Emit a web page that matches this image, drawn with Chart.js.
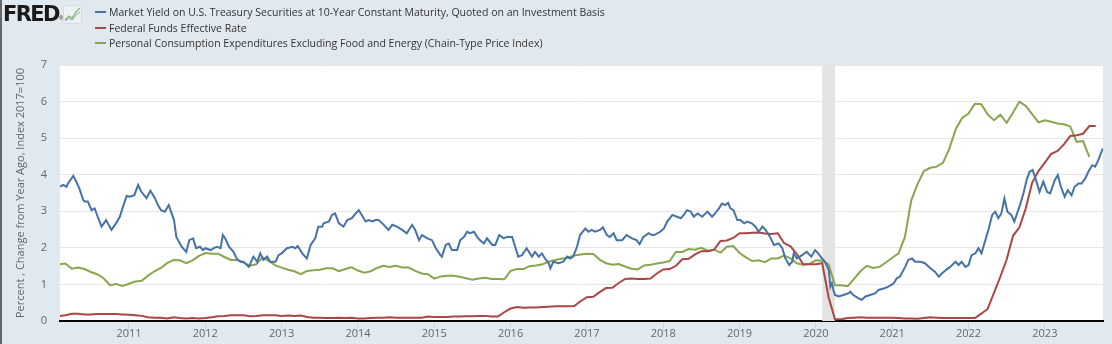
<!DOCTYPE html>
<html>
<head>
<meta charset="utf-8">
<script src="https://cdn.jsdelivr.net/npm/chart.js@4.4.0/dist/chart.umd.min.js"></script>
<style>
  html, body { margin: 0; padding: 0; }
  body {
    width: 1112px; height: 344px; overflow: hidden; position: relative;
    background: #e1e9f0; font-family: "Open Sans", sans-serif;
  }
  #leftEdge { position: absolute; left: 0; top: 0; width: 2px; height: 344px; background: #666; }
  #fredChart { position: absolute; left: 0; top: 0; }
  #logo { position: absolute; left: 3px; top: 1px; height: 26px; }
  #logo .fred {
    font-family: "DejaVu Sans", sans-serif; font-weight: 900; font-size: 21px;
    letter-spacing: -1.6px; color: #1a1a1a; line-height: 26px;
  }
  #logo .reg { font-size: 5px; color: #333; vertical-align: 1px; }
  #logo svg { position: absolute; left: 60px; top: 4px; }
  #legend { position: absolute; left: 95px; top: 5px; margin: 0; padding: 0; list-style: none; }
  #legend li { height: 15.5px; line-height: 15.5px; font-size: 10.5px; color: #333; white-space: nowrap; }
  #legend .dash { display: inline-block; width: 11px; height: 2px; vertical-align: middle; margin-right: 3px; position: relative; top: -1px; }
</style>
</head>
<body>
<canvas id="fredChart" width="1112" height="344"></canvas>
<div id="leftEdge"></div>
<div id="logo">
  <span class="fred">FRED</span><span class="reg">®</span>
  <svg width="19" height="19" viewBox="0 0 19 19">
    <rect x="0.5" y="0.5" width="18" height="18" rx="2" fill="#eef1f4" stroke="#d5dbe1"/>
    <polyline points="2,15 6,11 9,13 13,7 17,3" fill="none" stroke="#8fb86a" stroke-width="1.3"/>
    <polyline points="2,16 6,13 9,15 13,10 17,7" fill="none" stroke="#7d9fc4" stroke-width="1"/>
  </svg>
</div>
<ul id="legend"></ul>
<script>
// séries (títulos e cores como no FRED)
const seriesNames = [
  'Market Yield on U.S. Treasury Securities at 10-Year Constant Maturity, Quoted on an Investment Basis',
  'Federal Funds Effective Rate',
  'Personal Consumption Expenditures Excluding Food and Energy (Chain-Type Price Index)'
];
const seriesColors = ['#4572a7', '#aa4643', '#89a54e'];

// eixos
const xMin = 2010.096;
const xMax = 2023.762;
const yearTicks = [2011, 2012, 2013, 2014, 2015, 2016, 2017, 2018, 2019, 2020, 2021, 2022, 2023];
const percentTicks = [0, 1, 2, 3, 4, 5, 6, 7];
const recession = [2020.083, 2020.25];

// 10 anos (datas em ano decimal)
const yieldDates = [
  2010.09, 2010.14, 2010.18, 2010.20, 2010.27, 2010.31, 2010.35, 2010.40, 2010.42, 2010.46,
  2010.51, 2010.55, 2010.59, 2010.64, 2010.70, 2010.77, 2010.83, 2010.88, 2010.92, 2010.97,
  2011.01, 2011.07, 2011.12, 2011.16, 2011.23, 2011.28, 2011.34, 2011.38, 2011.42, 2011.47,
  2011.52, 2011.55, 2011.59, 2011.62, 2011.69, 2011.75, 2011.79, 2011.84, 2011.88, 2011.93,
  2011.97, 2012.00, 2012.07, 2012.11, 2012.15, 2012.20, 2012.23, 2012.26, 2012.31, 2012.37,
  2012.41, 2012.46, 2012.50, 2012.57, 2012.63, 2012.68, 2012.72, 2012.76, 2012.81, 2012.85,
  2012.92, 2012.96, 2013.00, 2013.07, 2013.14, 2013.18, 2013.21, 2013.27, 2013.33, 2013.38,
  2013.44, 2013.48, 2013.53, 2013.55, 2013.62, 2013.66, 2013.70, 2013.75, 2013.81, 2013.86,
  2013.92, 2013.97, 2014.01, 2014.05, 2014.10, 2014.14, 2014.19, 2014.23, 2014.27, 2014.32,
  2014.36, 2014.40, 2014.45, 2014.51, 2014.58, 2014.64, 2014.71, 2014.75, 2014.80, 2014.84,
  2014.91, 2014.97, 2015.02, 2015.08, 2015.10, 2015.15, 2015.19, 2015.23, 2015.30, 2015.34,
  2015.39, 2015.43, 2015.47, 2015.52, 2015.56, 2015.60, 2015.65, 2015.69, 2015.76, 2015.80,
  2015.85, 2015.91, 2015.95, 2016.02, 2016.06, 2016.10, 2016.15, 2016.21, 2016.28, 2016.32,
  2016.37, 2016.41, 2016.45, 2016.50, 2016.52, 2016.56, 2016.63, 2016.69, 2016.74, 2016.78,
  2016.82, 2016.87, 2016.91, 2016.98, 2017.02, 2017.06, 2017.11, 2017.17, 2017.21, 2017.26,
  2017.30, 2017.35, 2017.39, 2017.46, 2017.52, 2017.59, 2017.65, 2017.69, 2017.74, 2017.81,
  2017.85, 2017.88, 2017.96, 2018.01, 2018.05, 2018.12, 2018.18, 2018.23, 2018.27, 2018.31,
  2018.36, 2018.40, 2018.45, 2018.51, 2018.58, 2018.64, 2018.68, 2018.73, 2018.77, 2018.81,
  2018.85, 2018.88, 2018.92, 2018.97, 2019.01, 2019.06, 2019.10, 2019.16, 2019.21, 2019.25,
  2019.30, 2019.34, 2019.40, 2019.45, 2019.51, 2019.56, 2019.60, 2019.65, 2019.69, 2019.71,
  2019.75, 2019.82, 2019.88, 2019.94, 2019.99, 2020.03, 2020.08, 2020.12, 2020.17, 2020.19,
  2020.21, 2020.23, 2020.25, 2020.30, 2020.36, 2020.43, 2020.45, 2020.49, 2020.56, 2020.60,
  2020.65, 2020.71, 2020.78, 2020.82, 2020.89, 2020.95, 2021.02, 2021.06, 2021.10, 2021.17,
  2021.21, 2021.26, 2021.30, 2021.37, 2021.43, 2021.50, 2021.56, 2021.61, 2021.65, 2021.72,
  2021.76, 2021.83, 2021.87, 2021.91, 2021.96, 2022.00, 2022.04, 2022.09, 2022.13, 2022.17,
  2022.22, 2022.26, 2022.31, 2022.35, 2022.39, 2022.43, 2022.47, 2022.51, 2022.56, 2022.60,
  2022.63, 2022.68, 2022.72, 2022.76, 2022.80, 2022.84, 2022.89, 2022.93, 2022.98, 2023.03,
  2023.07, 2023.13, 2023.17, 2023.21, 2023.26, 2023.30, 2023.35, 2023.39, 2023.44, 2023.48,
  2023.53, 2023.57, 2023.62, 2023.66, 2023.70, 2023.76
];
const yieldValues = [
  3.67, 3.72, 3.67, 3.76, 3.97, 3.81, 3.62, 3.31, 3.27, 3.27,
  3.03, 3.08, 2.85, 2.58, 2.76, 2.49, 2.67, 2.85, 3.12, 3.42,
  3.40, 3.44, 3.72, 3.54, 3.36, 3.56, 3.36, 3.17, 3.03, 2.99,
  3.17, 2.99, 2.76, 2.30, 2.03, 1.89, 2.21, 2.26, 1.99, 2.03,
  1.94, 1.99, 1.94, 1.99, 2.03, 1.99, 2.35, 2.26, 2.03, 1.89,
  1.71, 1.62, 1.62, 1.48, 1.76, 1.62, 1.85, 1.67, 1.76, 1.62,
  1.62, 1.80, 1.85, 1.99, 2.03, 1.99, 2.05, 1.85, 1.71, 2.08,
  2.26, 2.58, 2.58, 2.67, 2.72, 2.90, 2.94, 2.67, 2.58, 2.76,
  2.81, 2.94, 3.03, 2.90, 2.72, 2.76, 2.72, 2.76, 2.76, 2.67,
  2.58, 2.49, 2.63, 2.58, 2.49, 2.40, 2.63, 2.49, 2.21, 2.35,
  2.26, 2.21, 1.99, 1.80, 1.76, 2.08, 2.12, 1.94, 1.94, 2.21,
  2.30, 2.44, 2.40, 2.44, 2.30, 2.21, 2.12, 2.26, 2.08, 2.08,
  2.35, 2.26, 2.30, 2.30, 2.03, 1.76, 1.80, 1.99, 1.76, 1.89,
  1.76, 1.85, 1.71, 1.58, 1.44, 1.62, 1.58, 1.62, 1.76, 1.71,
  1.76, 2.03, 2.35, 2.53, 2.44, 2.49, 2.44, 2.49, 2.56, 2.35,
  2.30, 2.40, 2.21, 2.21, 2.35, 2.26, 2.21, 2.10, 2.30, 2.40,
  2.35, 2.35, 2.44, 2.53, 2.71, 2.90, 2.85, 2.81, 2.90, 3.03,
  2.99, 2.85, 2.94, 2.85, 2.99, 2.85, 2.94, 3.08, 3.21, 3.17,
  3.23, 3.08, 3.03, 2.76, 2.76, 2.67, 2.72, 2.67, 2.58, 2.44,
  2.58, 2.49, 2.30, 2.08, 2.12, 1.99, 1.71, 1.53, 1.62, 1.85,
  1.71, 1.80, 1.89, 1.76, 1.94, 1.85, 1.71, 1.62, 1.39, 0.94,
  1.03, 0.85, 0.71, 0.67, 0.71, 0.76, 0.80, 0.71, 0.62, 0.58,
  0.67, 0.71, 0.76, 0.85, 0.89, 0.94, 1.03, 1.17, 1.21, 1.48,
  1.67, 1.71, 1.62, 1.62, 1.58, 1.44, 1.35, 1.21, 1.30, 1.42,
  1.48, 1.62, 1.53, 1.62, 1.48, 1.53, 1.80, 1.85, 1.99, 1.85,
  2.21, 2.49, 2.90, 2.99, 2.81, 2.94, 3.35, 2.99, 2.90, 2.72,
  2.90, 3.21, 3.49, 3.85, 4.08, 4.13, 3.81, 3.53, 3.81, 3.53,
  3.49, 3.85, 3.99, 3.67, 3.40, 3.58, 3.44, 3.67, 3.76, 3.76,
  3.90, 4.08, 4.26, 4.22, 4.40, 4.72
];

// séries mensais (primeiro ponto = jan/2010)
const monthlyStart = 2010;
const fedFunds = [
  0.11, 0.13, 0.16, 0.20, 0.20, 0.18, 0.18, 0.19, 0.19, 0.19, 0.19, 0.18,
  0.17, 0.16, 0.14, 0.10, 0.09, 0.09, 0.07, 0.10, 0.08, 0.07, 0.08, 0.07,
  0.08, 0.10, 0.13, 0.14, 0.16, 0.16, 0.16, 0.13, 0.14, 0.16, 0.16, 0.16,
  0.14, 0.15, 0.14, 0.15, 0.11, 0.09, 0.09, 0.08, 0.08, 0.09, 0.08, 0.09,
  0.07, 0.07, 0.08, 0.09, 0.09, 0.10, 0.09, 0.09, 0.09, 0.09, 0.09, 0.12,
  0.11, 0.11, 0.11, 0.12, 0.12, 0.13, 0.13, 0.14, 0.14, 0.12, 0.12, 0.24,
  0.34, 0.38, 0.36, 0.37, 0.37, 0.38, 0.39, 0.40, 0.40, 0.40, 0.41, 0.54,
  0.65, 0.66, 0.79, 0.90, 0.91, 1.04, 1.15, 1.16, 1.15, 1.15, 1.16, 1.30,
  1.41, 1.42, 1.51, 1.69, 1.70, 1.82, 1.91, 1.91, 1.95, 2.19, 2.20, 2.27,
  2.40, 2.40, 2.41, 2.42, 2.39, 2.38, 2.40, 2.13, 2.04, 1.83, 1.55, 1.55,
  1.55, 1.58, 0.65, 0.05, 0.05, 0.08, 0.09, 0.10, 0.09, 0.09, 0.09, 0.09,
  0.09, 0.08, 0.07, 0.07, 0.06, 0.08, 0.10, 0.09, 0.08, 0.08, 0.08, 0.08,
  0.08, 0.08, 0.20, 0.33, 0.77, 1.21, 1.68, 2.33, 2.56, 3.08, 3.78, 4.10,
  4.33, 4.57, 4.65, 4.83, 5.06, 5.08, 5.12, 5.33, 5.33
];
const corePce = [
  1.50, 1.55, 1.57, 1.43, 1.46, 1.42, 1.34, 1.28, 1.17, 0.98, 1.01, 0.96,
  1.02, 1.08, 1.10, 1.24, 1.36, 1.45, 1.58, 1.67, 1.66, 1.58, 1.66, 1.78,
  1.86, 1.84, 1.84, 1.75, 1.67, 1.67, 1.60, 1.51, 1.55, 1.74, 1.64, 1.52,
  1.46, 1.40, 1.36, 1.28, 1.37, 1.39, 1.40, 1.44, 1.44, 1.36, 1.42, 1.47,
  1.38, 1.32, 1.36, 1.45, 1.51, 1.48, 1.51, 1.46, 1.46, 1.37, 1.30, 1.28,
  1.16, 1.22, 1.24, 1.24, 1.21, 1.17, 1.13, 1.16, 1.18, 1.15, 1.15, 1.14,
  1.37, 1.42, 1.42, 1.50, 1.52, 1.55, 1.62, 1.67, 1.70, 1.73, 1.79, 1.82,
  1.84, 1.83, 1.68, 1.58, 1.54, 1.56, 1.49, 1.43, 1.41, 1.52, 1.54, 1.57,
  1.60, 1.64, 1.89, 1.89, 1.97, 1.95, 2.00, 1.92, 1.95, 1.87, 2.03, 2.05,
  1.86, 1.74, 1.64, 1.66, 1.61, 1.71, 1.71, 1.79, 1.71, 1.58, 1.54, 1.56,
  1.66, 1.65, 1.55, 0.98, 0.98, 0.95, 1.15, 1.36, 1.51, 1.45, 1.48, 1.60,
  1.73, 1.85, 2.30, 3.30, 3.75, 4.10, 4.19, 4.22, 4.33, 4.72, 5.25, 5.55,
  5.67, 5.94, 5.93, 5.65, 5.49, 5.64, 5.42, 5.70, 6.00, 5.88, 5.66, 5.43,
  5.49, 5.45, 5.40, 5.38, 5.32, 4.90, 4.92, 4.49
];

function monthlyPoints(values) {
  return values.map((v, i) => ({ x: monthlyStart + i / 12, y: v }));
}

// legenda no cabeçalho
const legend = document.getElementById('legend');
seriesNames.forEach((name, i) => {
  const li = document.createElement('li');
  const dash = document.createElement('span');
  dash.className = 'dash';
  dash.style.background = seriesColors[i];
  li.appendChild(dash);
  li.appendChild(document.createTextNode(name));
  legend.appendChild(li);
});

// fundo branco + faixa de recessão
const plotBackground = {
  id: 'plotBackground',
  beforeDraw(chart) {
    const a = chart.chartArea;
    const ctx = chart.ctx;
    ctx.save();
    ctx.fillStyle = '#ffffff';
    ctx.fillRect(a.left, a.top, a.right - a.left, a.bottom - a.top);
    ctx.restore();
  },
  beforeDatasetsDraw(chart) {
    const a = chart.chartArea;
    const x = chart.scales.x;
    const x0 = x.getPixelForValue(recession[0]);
    const x1 = x.getPixelForValue(recession[1]);
    const ctx = chart.ctx;
    ctx.save();
    ctx.fillStyle = '#e3e3e3';
    ctx.fillRect(x0, a.top, x1 - x0, a.bottom - a.top);
    ctx.restore();
  }
};

const ctx = document.getElementById('fredChart').getContext('2d');
new Chart(ctx, {
  type: 'line',
  data: {
    datasets: [
      {
        label: seriesNames[0],
        data: yieldDates.map((d, i) => ({ x: d, y: yieldValues[i] })),
        borderColor: seriesColors[0]
      },
      {
        label: seriesNames[1],
        data: monthlyPoints(fedFunds),
        borderColor: seriesColors[1]
      },
      {
        label: seriesNames[2],
        data: monthlyPoints(corePce),
        borderColor: seriesColors[2]
      }
    ]
  },
  options: {
    responsive: false,
    animation: false,
    devicePixelRatio: 1,
    layout: { padding: { top: 65, right: 9, left: 0, bottom: 0 } },
    elements: {
      line: { borderWidth: 2, tension: 0, fill: false },
      point: { radius: 0, hoverRadius: 0 }
    },
    plugins: {
      legend: { display: false },
      tooltip: { enabled: false }
    },
    scales: {
      x: {
        type: 'linear',
        min: xMin,
        max: xMax,
        afterFit: (scale) => { scale.height = 23; },
        afterBuildTicks: (scale) => { scale.ticks = yearTicks.map(v => ({ value: v })); },
        border: { display: true, color: '#000000', width: 2 },
        grid: { drawOnChartArea: false, drawTicks: true, tickLength: 10, color: '#ccd6eb', lineWidth: 1 },
        ticks: {
          color: '#666666',
          font: { family: 'Open Sans', size: 11 },
          padding: -4,
          maxRotation: 0,
          autoSkip: false,
          callback: (value) => String(value)
        }
      },
      y: {
        min: 0,
        max: 7,
        afterFit: (scale) => { scale.width = 60; },
        afterBuildTicks: (scale) => { scale.ticks = percentTicks.map(v => ({ value: v })); },
        border: { display: false },
        grid: { color: '#e6e6e6', lineWidth: 1, drawTicks: false },
        ticks: {
          color: '#666666',
          font: { family: 'Open Sans', size: 11 },
          padding: 13,
          callback: (value) => String(value)
        },
        title: {
          display: true,
          text: 'Percent , Change from Year Ago, Index 2017=100',
          color: '#666666',
          font: { family: 'Open Sans', size: 11 },
          padding: { top: 14, bottom: 0 }
        }
      }
    }
  },
  plugins: [plotBackground]
});
</script>
</body>
</html>
